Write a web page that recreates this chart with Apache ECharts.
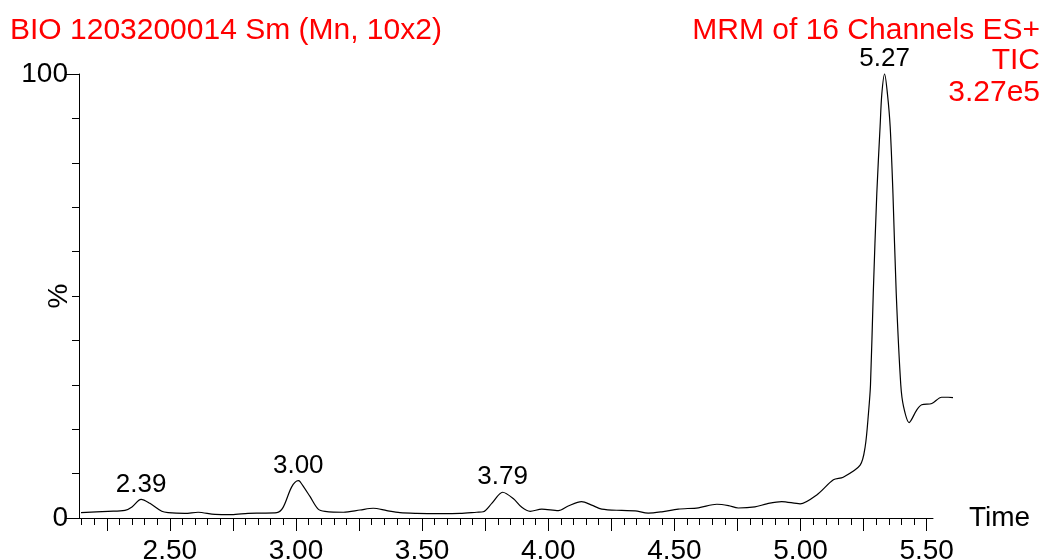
<!DOCTYPE html>
<html>
<head>
<meta charset="utf-8">
<script src="https://cdn.jsdelivr.net/npm/echarts@6/dist/echarts.min.js"></script>
<style>
  html, body { margin: 0; padding: 0; background: #fff; }
  #chart { width: 1045px; height: 560px; }
</style>
</head>
<body>
<div id="chart"></div>
<script>
// retention time (min) and relative intensity (%)
var times = [2.148, 2.255, 2.322, 2.350, 2.386, 2.421, 2.468, 2.493, 2.560, 2.612,
             2.679, 2.745, 2.810, 2.864, 2.924, 2.949, 2.983, 3.009, 3.016, 3.056,
             3.088, 3.115, 3.188, 3.254, 3.306, 3.360, 3.412, 3.478, 3.571, 3.650,
             3.716, 3.742, 3.776, 3.819, 3.861, 3.895, 3.928, 3.974, 4.040, 4.079,
             4.132, 4.172, 4.212, 4.291, 4.344, 4.396, 4.450, 4.515, 4.595, 4.668,
             4.714, 4.753, 4.819, 4.866, 4.925, 4.998, 5.064, 5.130, 5.169, 5.236,
             5.256, 5.269, 5.277, 5.288, 5.302, 5.315, 5.322, 5.333, 5.344, 5.355,
             5.366, 5.379, 5.397, 5.408, 5.430, 5.460, 5.480, 5.520, 5.559, 5.585,
             5.604];
var intensity = [1.2, 1.5, 1.7, 2.5, 4.2, 3.3, 1.5, 1.2, 1.05, 1.3,
                 0.8, 0.75, 1.05, 1.1, 1.2, 2.4, 7.0, 8.4, 8.2, 4.8,
                 2.0, 1.5, 1.3, 1.8, 2.2, 1.65, 1.2, 1.05, 1.0, 1.05,
                 1.3, 1.4, 3.3, 5.8, 4.4, 2.4, 1.5, 2.0, 1.65, 2.7,
                 3.7, 2.9, 2.0, 1.7, 1.6, 1.1, 1.4, 2.0, 2.3, 3.1,
                 2.8, 2.25, 2.5, 3.2, 3.7, 3.2, 5.2, 8.6, 9.2, 11.9,
                 16.1, 23.6, 30.0, 50.6, 73.1, 88.1, 95.6, 100, 95.6, 88.1,
                 73.1, 50.6, 30.0, 25.1, 21.5, 24.3, 25.5, 25.8, 27.2, 27.2,
                 27.1];

// peak annotations
var peakTimes = [2.386, 3.009, 3.819, 5.333];
var peakHeights = [4.2, 8.4, 5.8, 100];
var peakLabels = ['2.39', '3.00', '3.79', '5.27'];

// axis ticks
var xMajorTicks = [2.25, 2.5, 2.75, 3.0, 3.25, 3.5, 3.75, 4.0, 4.25, 4.5, 4.75, 5.0, 5.25, 5.5];
var xTickLabels = [2.5, 3.0, 3.5, 4.0, 4.5, 5.0, 5.5];
var xMinorTicks = [];
for (var t = 2.15; t < 5.53; t += 0.05) {
    xMinorTicks.push(Math.round(t * 100) / 100);
}

var font = 'Liberation Sans, Arial, sans-serif';
var red = '#ff0000';

var lineData = times.map(function (x, i) { return [x, intensity[i]]; });
var peakData = peakTimes.map(function (x, i) { return { value: [x, peakHeights[i]], name: peakLabels[i] }; });

var chart = echarts.init(document.getElementById('chart'));

var titleStyle = { color: red, fontSize: 30, fontWeight: 'normal', fontFamily: font };

var option = {
    animation: false,
    backgroundColor: '#fff',
    title: [
        { text: 'BIO 1203200014 Sm (Mn, 10x2)', left: 10, top: 16, padding: 0, textStyle: titleStyle },
        { text: 'MRM of 16 Channels ES+', right: 5, top: 16, padding: 0, textStyle: titleStyle },
        { text: 'TIC', right: 5, top: 46, padding: 0, textStyle: titleStyle },
        { text: '3.27e5', right: 5, top: 78, padding: 0, textStyle: titleStyle }
    ],
    grid: [
        { left: 79, right: 112, top: 74, bottom: 42, outerBoundsMode: 'none' },
        { left: 79, right: 92, top: 74, bottom: 42, outerBoundsMode: 'none' }
    ],
    xAxis: [
        {
            type: 'value', gridIndex: 0, min: 2.14, max: 5.525, position: 'bottom',
            axisLine: { show: true, lineStyle: { color: '#000', width: 1 } },
            axisTick: { show: true, length: 7, customValues: xMinorTicks, lineStyle: { color: '#000' } },
            axisLabel: { show: false },
            splitLine: { show: false },
            name: 'Time', nameLocation: 'end', nameGap: 36, nameMoveOverlap: false,
            nameTextStyle: { color: '#000', fontSize: 28, fontFamily: font, verticalAlign: 'middle' }
        },
        {
            type: 'value', gridIndex: 0, min: 2.14, max: 5.525, position: 'bottom', offset: 0,
            axisLine: { show: false },
            axisTick: { show: true, length: 13, customValues: xMajorTicks, lineStyle: { color: '#000' } },
            axisLabel: {
                show: true, customValues: xTickLabels, margin: 19,
                color: '#000', fontSize: 28, fontFamily: font,
                formatter: function (v) { return v.toFixed(2); }
            },
            splitLine: { show: false }
        },
        {
            type: 'value', gridIndex: 1, min: 2.14, max: 5.604, show: false
        }
    ],
    yAxis: [
        {
            type: 'value', gridIndex: 0, min: 0, max: 100, interval: 10, position: 'left',
            axisLine: { show: true, lineStyle: { color: '#000', width: 1 } },
            axisTick: { show: true, length: 7, lineStyle: { color: '#000' } },
            axisLabel: { show: false },
            splitLine: { show: false },
            name: '%', nameLocation: 'middle', nameGap: 6, nameRotate: 90, nameMoveOverlap: false,
            nameTextStyle: { color: '#000', fontSize: 28, fontFamily: font }
        },
        {
            type: 'value', gridIndex: 0, min: 0, max: 100, interval: 100, position: 'left', offset: 0,
            axisLine: { show: false },
            axisTick: { show: true, length: 13, lineStyle: { color: '#000' } },
            axisLabel: { show: true, margin: 11, color: '#000', fontSize: 28, fontFamily: font },
            splitLine: { show: false }
        },
        {
            type: 'value', gridIndex: 1, min: 0, max: 100, show: false
        }
    ],
    series: [
        {
            name: 'TIC',
            type: 'line',
            xAxisIndex: 2,
            yAxisIndex: 2,
            data: lineData,
            smooth: 0.3,
            symbol: 'none',
            clip: false,
            lineStyle: { color: '#000', width: 1.2 }
        },
        {
            name: 'peaks',
            type: 'scatter',
            xAxisIndex: 2,
            yAxisIndex: 2,
            data: peakData,
            symbolSize: 0,
            itemStyle: { opacity: 1 },
            label: {
                show: true, position: 'top', distance: 2, opacity: 1,
                color: '#000', fontSize: 26, fontFamily: font,
                formatter: function (p) { return p.name; }
            }
        }
    ]
};

chart.setOption(option);
</script>
</body>
</html>
